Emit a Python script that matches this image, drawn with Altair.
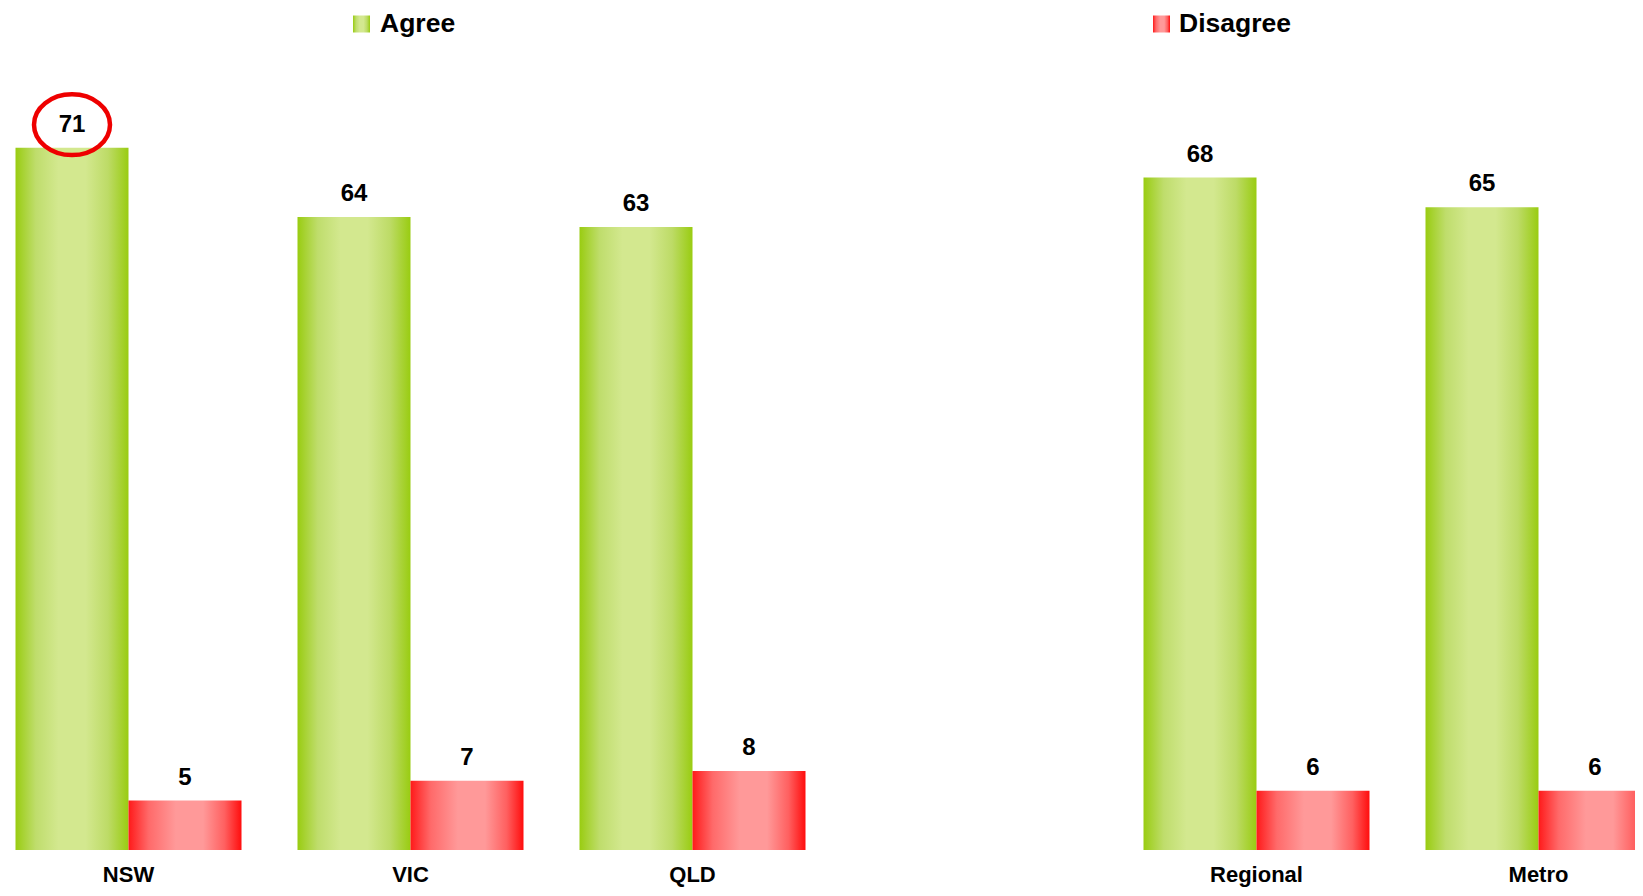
import altair as alt
import pandas as pd

# ---- data ----
regions = ["NSW", "VIC", "QLD", "Regional", "Metro"]
x_domain = ["NSW", "VIC", "QLD", " ", "Regional", "Metro"]  # blank slot separates the two groups
series = ["Agree", "Disagree"]
agree = [71, 64, 63, 68, 65]
disagree = [5, 7, 8, 6, 6]
highlight_region = "NSW"
highlight_series = "Agree"

rows = []
for r, a, d in zip(regions, agree, disagree):
    rows.append({"region": r, "series": "Agree", "value": a})
    rows.append({"region": r, "series": "Disagree", "value": d})
df = pd.DataFrame(rows)

FONT = "Liberation Sans"

green_grad = alt.LinearGradient(
    gradient="linear", x1=0, x2=1, y1=0, y2=0,
    stops=[
        alt.GradientStop(color="#99cc11", offset=0),
        alt.GradientStop(color="#bfdd6c", offset=0.18),
        alt.GradientStop(color="#d3e88f", offset=0.38),
        alt.GradientStop(color="#d3e88f", offset=0.62),
        alt.GradientStop(color="#bddb66", offset=0.82),
        alt.GradientStop(color="#99cc11", offset=1),
    ],
)
red_grad = alt.LinearGradient(
    gradient="linear", x1=0, x2=1, y1=0, y2=0,
    stops=[
        alt.GradientStop(color="#ff1a1a", offset=0),
        alt.GradientStop(color="#ff6a6a", offset=0.18),
        alt.GradientStop(color="#ff9999", offset=0.42),
        alt.GradientStop(color="#ff9999", offset=0.66),
        alt.GradientStop(color="#ff6060", offset=0.85),
        alt.GradientStop(color="#ff0d0d", offset=1),
    ],
)

x_enc = alt.X(
    "region:N",
    scale=alt.Scale(domain=x_domain, range=[-20.5, 1671.5], round=False,
                    paddingInner=0.1986, paddingOuter=0.0993),
    axis=alt.Axis(title=None, labelAngle=0, domain=False, ticks=False,
                  labelFont=FONT, labelFontSize=22, labelFontWeight="bold",
                  labelColor="black", labelPadding=14),
)
xoff_enc = alt.XOffset("series:N", scale=alt.Scale(domain=series, paddingInner=0,
                                                   paddingOuter=0, round=False))
y_enc = alt.Y("value:Q", scale=alt.Scale(domain=[0, 85.14], nice=False, zero=True), axis=None)

base = alt.Chart(df).encode(x=x_enc, xOffset=xoff_enc, y=y_enc)

green_bars = base.transform_filter(alt.datum.series == "Agree").mark_bar(fill=green_grad)
red_bars = base.transform_filter(alt.datum.series == "Disagree").mark_bar(fill=red_grad)

labels = base.mark_text(dy=-23, baseline="middle", fontSize=24, fontWeight="bold",
                        font=FONT, color="black").encode(text="value:Q")

ellipse_path = ("M-0.95,-0.58 A0.95,0.76 0 1,0 0.95,-0.58 "
                "A0.95,0.76 0 1,0 -0.95,-0.58 Z")
ellipse = base.transform_filter(
    (alt.datum.region == highlight_region) & (alt.datum.series == highlight_series)
).mark_point(shape=ellipse_path, size=6400, filled=False, stroke="#ee0000",
             strokeWidth=4.5, opacity=1)

# ---- legend ----
leg_agree = pd.DataFrame({"label": [series[0]]})
leg_dis = pd.DataFrame({"label": [series[1]]})

leg_sq1 = alt.Chart(leg_agree).mark_square(fill=green_grad, size=289, opacity=1, strokeWidth=0).encode(
    x=alt.value(353.5), y=alt.value(16))
leg_tx1 = alt.Chart(leg_agree).mark_text(align="left", baseline="middle", fontSize=26.5,
                                         fontWeight="bold", font=FONT, color="black").encode(
    x=alt.value(372), y=alt.value(16), text="label:N")
leg_sq2 = alt.Chart(leg_dis).mark_square(fill=red_grad, size=289, opacity=1, strokeWidth=0).encode(
    x=alt.value(1153.5), y=alt.value(16))
leg_tx2 = alt.Chart(leg_dis).mark_text(align="left", baseline="middle", fontSize=26.5,
                                       fontWeight="bold", font=FONT, color="black").encode(
    x=alt.value(1171), y=alt.value(16), text="label:N")

chart = alt.layer(
    green_bars, red_bars, labels, ellipse, leg_sq1, leg_tx1, leg_sq2, leg_tx2
).properties(
    width=1627, height=842,
    autosize=alt.AutoSizeParams(type="none"),
    padding={"left": 0, "top": 0, "right": 0, "bottom": 38},
    background="white",
).configure_view(stroke=None)

chart.save("out.html", embed_options={"renderer": "svg", "actions": False})
